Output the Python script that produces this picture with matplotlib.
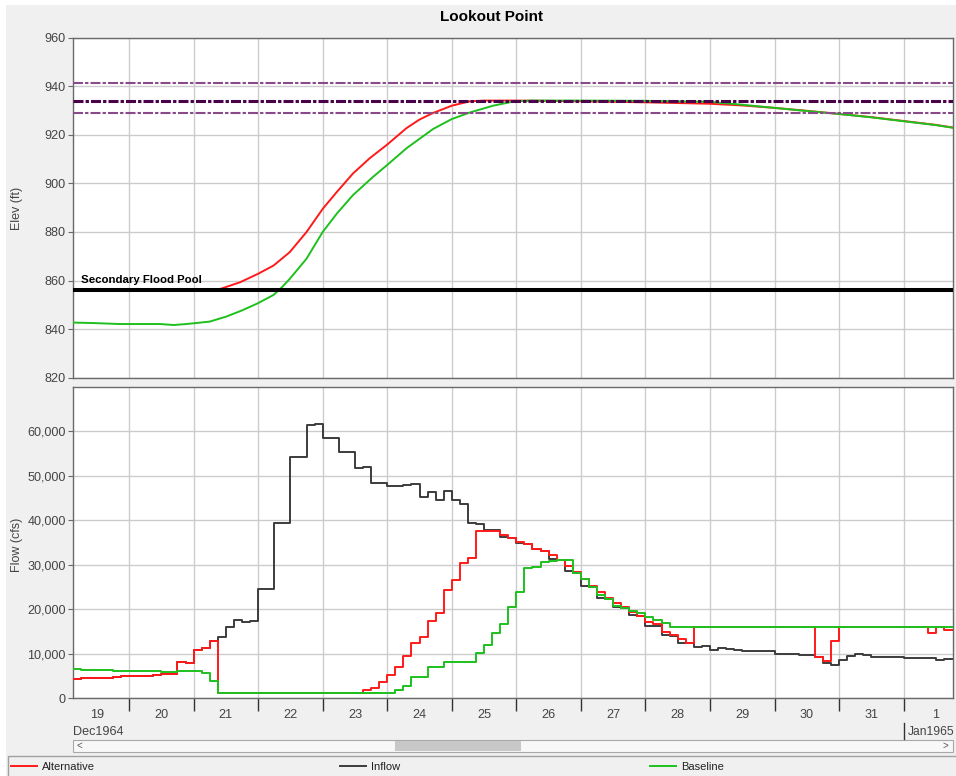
import matplotlib
matplotlib.use('Agg')
import matplotlib.pyplot as plt
from matplotlib.patches import Rectangle
from matplotlib.lines import Line2D
from matplotlib.ticker import FuncFormatter, FixedLocator

plt.rcParams['font.family'] = ['Liberation Sans', 'DejaVu Sans']
plt.rcParams['lines.scale_dashes'] = False

# ---------------- data (time in days; 20.0 = 20 Dec 1964 00:00, 32.0 = 1 Jan 1965) ----------------
title = "Lookout Point"
series_names = ["Alternative", "Inflow", "Baseline"]
day_labels = ["19", "20", "21", "22", "23", "24", "25", "26", "27", "28", "29", "30", "31", "1"]
x_start, x_end = 19.132, 32.765

# guide levels (ft)
upper_guide = [941.4, 929.2]
rule_curve = 934.1
secondary_flood_pool = 856.1

# pool elevation (ft)
alt_elev_t = [21.375, 21.72, 22.0, 22.24, 22.49, 22.75, 23.0, 23.22, 23.47, 23.73, 24.0, 24.3,
              24.5, 24.71, 25.0, 25.28, 25.5, 26.0, 26.5, 27.0, 27.5, 28.0, 28.5, 29.0, 29.5,
              30.0, 30.5, 31.0, 31.5, 32.0, 32.5, 32.765]
alt_elev = [856.2, 859.3, 862.8, 866.2, 871.7, 880.0, 889.5, 896.5, 904.1, 910.4, 916.0, 922.8,
            926.3, 929.0, 932.0, 933.8, 934.1, 934.1, 934.0, 933.8, 933.6, 933.4, 933.1, 932.8,
            932.1, 931.1, 929.9, 928.6, 927.3, 925.7, 924.1, 923.0]
base_elev_t = [19.132, 19.45, 19.86, 20.48, 20.69, 20.89, 21.25, 21.51, 21.75, 22.0, 22.24, 22.37,
               22.49, 22.75, 23.0, 23.22, 23.47, 23.78, 24.0, 24.3, 24.71, 25.0, 25.28, 25.64,
               25.95, 26.2, 27.0, 28.0, 28.5, 29.0, 29.5, 30.0, 30.5, 31.0, 31.5, 32.0, 32.5, 32.765]
base_elev = [842.7, 842.5, 842.1, 842.1, 841.7, 842.1, 843.1, 845.2, 847.7, 850.7, 854.1, 857.3,
             860.7, 869.0, 880.0, 887.6, 895.2, 902.7, 907.6, 914.5, 922.4, 926.5, 929.2, 932.0,
             933.7, 934.1, 934.1, 934.0, 933.8, 933.6, 932.4, 931.1, 929.8, 928.6, 927.2, 925.6,
             924.0, 922.9]

# flows (cfs), 3-hourly step changes
inflow_t = [19.125, 19.25, 19.75, 19.875, 20.0, 20.25, 20.375, 20.5, 20.75, 20.875, 21.0, 21.125,
            21.25, 21.375, 21.5, 21.625, 21.75, 21.875, 22.0, 22.25, 22.5, 22.75, 22.875, 23.0,
            23.25, 23.5, 23.625, 23.75, 24.0, 24.25, 24.375, 24.5, 24.625, 24.75, 24.875, 25.0,
            25.125, 25.25, 25.375, 25.5, 25.75, 25.875, 26.0, 26.125, 26.25, 26.375, 26.5, 26.625,
            26.75, 26.875, 27.0, 27.125, 27.25, 27.375, 27.5, 27.625, 27.75, 27.875, 28.0, 28.125,
            28.25, 28.375, 28.5, 28.625, 28.75, 28.875, 29.0, 29.125, 29.25, 29.375, 29.5, 29.75,
            30.0, 30.375, 30.625, 30.75, 30.875, 31.0, 31.125, 31.25, 31.375, 31.5, 32.0, 32.25,
            32.5, 32.625]
inflow = [4260, 4490, 4720, 4940, 5090, 4940, 5160, 5530, 8160, 8010, 10850, 11380,
          12950, 13840, 16090, 17590, 17210, 17360, 24490, 39320, 54290, 61410, 61630, 58560,
          55230, 51680, 51910, 48310, 47700, 47930, 48150, 45120, 46430, 44480, 46580, 44480,
          43590, 39460, 39200, 37900, 36320, 36090, 34830, 34600, 33480, 33100, 31300, 31000,
          28670, 28090, 25300, 24940, 22470, 22400, 20450, 20300, 18720, 18500, 16310, 16150,
          14160, 13940, 12490, 12340, 11590, 11800, 10860, 11390, 11150, 10860, 10710, 10650,
          9960, 9730, 9350, 7940, 7560, 8690, 9500, 9960, 9730, 9210, 8990, 8950,
          8610, 8760]
alt_flow_t = [19.125, 19.25, 19.75, 19.875, 20.0, 20.25, 20.375, 20.5, 20.75, 20.875, 21.0, 21.125,
              21.25, 21.375, 23.625, 23.75, 23.875, 24.0, 24.125, 24.25, 24.375, 24.5, 24.625,
              24.75, 24.875, 25.0, 25.125, 25.25, 25.375, 25.75, 25.875, 26.0, 26.125, 26.25,
              26.375, 26.5, 26.625, 26.75, 26.875, 27.0, 27.125, 27.25, 27.375, 27.5, 27.625,
              27.75, 27.875, 28.0, 28.125, 28.25, 28.375, 28.5, 28.625, 28.75, 30.625, 30.75,
              30.875, 31.0, 32.375, 32.5, 32.625]
alt_flow = [4260, 4490, 4720, 4940, 5090, 4940, 5160, 5530, 8160, 8010, 10850, 11380,
            12950, 1120, 1865, 2240, 3595, 5235, 7100, 9505, 12360, 13710, 17370,
            19100, 24330, 26580, 30330, 31460, 37660, 36690, 35950, 35060, 34680, 33550,
            33170, 32200, 31070, 29730, 28450, 26740, 25240, 23960, 22470, 21490, 20590,
            19460, 18490, 17220, 16630, 14970, 14220, 13260, 12500, 16020, 9350, 8380,
            12940, 16020, 14600, 16020, 15350]
base_flow_t = [19.125, 19.25, 19.75, 20.5, 20.75, 21.125, 21.25, 21.375, 24.125, 24.25, 24.375,
               24.625, 24.875, 25.375, 25.5, 25.625, 25.75, 25.875, 26.0, 26.125, 26.25, 26.375,
               26.5, 26.625, 26.875, 27.0, 27.125, 27.25, 27.375, 27.5, 27.625, 27.75, 27.875,
               28.0, 28.125, 28.25, 28.375]
base_flow = [6510, 6290, 6060, 5910, 6135, 5760, 3960, 1120, 1865, 2830, 4720,
             7100, 8150, 10200, 11980, 14670, 16800, 20550, 23900, 29210, 29440, 30560,
             30850, 31010, 28220, 26800, 25080, 23210, 22240, 20740, 20220, 19620, 19240,
             18340, 17590, 16850, 16020]

elev_ticks = [820, 840, 860, 880, 900, 920, 940, 960]
flow_ticks = [0, 10000, 20000, 30000, 40000, 50000, 60000]

# ---------------- styling ----------------
C_ALT = '#ff1a1a'
C_IN = '#3c3c3c'
C_BASE = '#1ec01e'
LABEL_C = '#444444'
GRID_C = '#cccccc'
SPINE_C = '#6a6a6a'

W, H = 956, 776
fig = plt.figure(figsize=(W / 100, H / 100), dpi=100, facecolor='white')


def fx(px):
    return px / W


def fy(py):
    return 1 - py / H


fig.patches.append(Rectangle((fx(6), 0), 1 - fx(6), fy(5), transform=fig.transFigure,
                             facecolor='#f0f0f0', edgecolor='none', zorder=-10))

ax1 = fig.add_axes([fx(73), fy(377.7), fx(953) - fx(73), (377.7 - 37.7) / H])
ax2 = fig.add_axes([fx(73), fy(698.3), fx(953) - fx(73), (698.3 - 386.7) / H])

day_bounds = list(range(20, 33))
day_centers = [19.5 + i for i in range(len(day_labels))]

for ax in (ax1, ax2):
    ax.set_facecolor('white')
    ax.set_xlim(x_start, x_end)
    ax.xaxis.set_major_locator(FixedLocator(day_bounds))
    ax.grid(True, color=GRID_C, lw=1.0, zorder=0)
    ax.set_axisbelow(True)
    for s in ax.spines.values():
        s.set_color(SPINE_C)
        s.set_linewidth(1.0)
    ax.tick_params(axis='y', direction='out', length=3.6, width=0.8, color=SPINE_C,
                   labelsize=9.1, labelcolor=LABEL_C, pad=1.5)

# ---- top: elevation ----
ax1.set_ylim(820, 960)
ax1.set_yticks(elev_ticks)
ax1.tick_params(axis='x', length=0, labelbottom=False)
for lvl in upper_guide:
    ax1.axhline(lvl, color='#8a4a8a', lw=1.5, ls=(0, (7.2, 1.5, 2.4, 1.5)), zorder=4)
ax1.axhline(rule_curve, color='#4a004a', lw=2.2, ls=(0, (7.2, 1.5, 2.4, 1.5)), zorder=4)
ax1.axhline(secondary_flood_pool, color='black', lw=2.9, zorder=5)
ax1.text(19.256, 858.9, 'Secondary Flood Pool', fontsize=8.2, fontweight='bold',
         va='baseline', ha='left', color='black', zorder=6)
ax1.plot(alt_elev_t, alt_elev, color=C_ALT, lw=1.4, zorder=3)
ax1.plot(base_elev_t, base_elev, color=C_BASE, lw=1.4, zorder=3.5)

# ---- bottom: flow ----
ax2.set_ylim(0, 70000)
ax2.set_yticks(flow_ticks)
ax2.yaxis.set_major_formatter(FuncFormatter(lambda v, p: f'{int(v):,}'))
ax2.set_xticks(day_bounds)
ax2.set_xticklabels([''] * len(day_bounds))
ax2.set_xticks(day_centers, minor=True)
ax2.set_xticklabels(day_labels, minor=True)
ax2.tick_params(axis='x', which='major', direction='out', length=9, width=1.0, color='#333333')
ax2.tick_params(axis='x', which='minor', length=0, labelsize=9.1, labelcolor=LABEL_C, pad=8)


def step_xy(t, v):
    return list(t) + [x_end], list(v) + [v[-1]]


xs, ys = step_xy(inflow_t, inflow)
ax2.step(xs, ys, where='post', color=C_IN, lw=1.4, zorder=3)
xs, ys = step_xy(alt_flow_t, alt_flow)
ax2.step(xs, ys, where='post', color=C_ALT, lw=1.4, zorder=4)
xs, ys = step_xy(base_flow_t, base_flow)
ax2.step(xs, ys, where='post', color=C_BASE, lw=1.4, zorder=5)

# ---- figure texts ----
fig.text(fx(491.5), fy(17), title, ha='center', va='center', fontsize=11, fontweight='bold')
fig.text(fx(17), fy(208), 'Elev (ft)', rotation=90, ha='center', va='center', fontsize=9,
         color=LABEL_C)
fig.text(fx(17), fy(545), 'Flow (cfs)', rotation=90, ha='center', va='center', fontsize=9,
         color=LABEL_C)
fig.text(fx(73), fy(732), 'Dec1964', ha='left', va='center', fontsize=9.1, color=LABEL_C)
fig.text(fx(908), fy(732), 'Jan1965', ha='left', va='center', fontsize=8.7, color=LABEL_C)
fig.lines.append(Line2D([fx(904.3), fx(904.3)], [fy(723), fy(739)], transform=fig.transFigure,
                        color='#333333', lw=1.0))

# scrollbar
fig.patches.append(Rectangle((fx(73), fy(752)), fx(953) - fx(73), (752 - 739.5) / H,
                             transform=fig.transFigure, facecolor='#f8f8f8',
                             edgecolor='#a8a8a8', lw=0.8))
fig.patches.append(Rectangle((fx(395), fy(750.8)), fx(520.7) - fx(395), (750.8 - 740.8) / H,
                             transform=fig.transFigure, facecolor='#c8c8c8', edgecolor='none'))
fig.text(fx(79), fy(746), '<', ha='center', va='center', fontsize=7, color='#555555')
fig.text(fx(945), fy(746), '>', ha='center', va='center', fontsize=7, color='#555555')

# legend panel
fig.patches.append(Rectangle((fx(8), fy(780)), 1.0, (780 - 756) / H, transform=fig.transFigure,
                             facecolor='#f0f0f0', edgecolor='#a0a0a0', lw=1.0))
legend_items = [(11, C_ALT), (340, C_IN), (650, C_BASE)]
for (lx, col), name in zip(legend_items, series_names):
    fig.lines.append(Line2D([fx(lx), fx(lx + 26)], [fy(766), fy(766)], transform=fig.transFigure,
                            color=col, lw=1.4))
    fig.text(fx(lx + 31), fy(767), name, ha='left', va='center', fontsize=8, color='#222222')

fig.savefig('out.png', dpi=100, facecolor=fig.get_facecolor())
